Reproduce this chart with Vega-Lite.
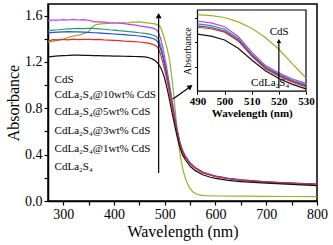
{
  "$schema": "https://vega.github.io/schema/vega-lite/v6.json",
  "width": 269,
  "height": 197,
  "autosize": "none",
  "padding": {"left": 48, "top": 4, "right": 16, "bottom": 44},
  "background": "white",
  "config": {
    "view": {"stroke": "#000", "strokeWidth": 1.5},
    "font": "Liberation Serif",
    "style": {"guide-label": {"font": "Liberation Serif"}, "guide-title": {"font": "Liberation Serif"}},
    "axis": {"labelFont": "Liberation Serif", "titleFont": "Liberation Serif", "labelColor": "#000", "titleColor": "#000", "domainColor": "#000", "tickColor": "#000", "grid": false, "titleFontWeight": "normal", "labelFlush": false, "labelOverlap": false}
  },
  "datasets": {
    "main": [
      {"s":"CdS","w":270,"a":1.372},{"s":"CdS","w":280,"a":1.378},{"s":"CdS","w":290,"a":1.388},{"s":"CdS","w":300,"a":1.396},{"s":"CdS","w":313,"a":1.416},{"s":"CdS","w":322,"a":1.425},{"s":"CdS","w":330,"a":1.432},{"s":"CdS","w":338,"a":1.44},{"s":"CdS","w":346,"a":1.452},{"s":"CdS","w":350,"a":1.462},{"s":"CdS","w":353,"a":1.478},{"s":"CdS","w":356,"a":1.498},{"s":"CdS","w":360,"a":1.512},{"s":"CdS","w":365,"a":1.522},{"s":"CdS","w":370,"a":1.526},{"s":"CdS","w":380,"a":1.53},{"s":"CdS","w":390,"a":1.532},{"s":"CdS","w":400,"a":1.534},{"s":"CdS","w":410,"a":1.536},{"s":"CdS","w":420,"a":1.538},{"s":"CdS","w":430,"a":1.54},{"s":"CdS","w":440,"a":1.543},{"s":"CdS","w":450,"a":1.545},{"s":"CdS","w":460,"a":1.54},{"s":"CdS","w":470,"a":1.535},{"s":"CdS","w":478,"a":1.53},{"s":"CdS","w":484,"a":1.524},{"s":"CdS","w":488,"a":1.515},{"s":"CdS","w":492,"a":1.5},{"s":"CdS","w":496,"a":1.45},{"s":"CdS","w":500,"a":1.39},{"s":"CdS","w":505,"a":1.31},{"s":"CdS","w":510,"a":1.21},{"s":"CdS","w":516,"a":0.99},{"s":"CdS","w":521,"a":0.77},{"s":"CdS","w":526,"a":0.53},{"s":"CdS","w":532,"a":0.355},{"s":"CdS","w":537,"a":0.25},{"s":"CdS","w":542,"a":0.18},{"s":"CdS","w":548,"a":0.12},{"s":"CdS","w":555,"a":0.08},{"s":"CdS","w":562,"a":0.06},{"s":"CdS","w":570,"a":0.05},{"s":"CdS","w":580,"a":0.046},{"s":"CdS","w":600,"a":0.043},{"s":"CdS","w":650,"a":0.042},{"s":"CdS","w":700,"a":0.04},{"s":"CdS","w":750,"a":0.039},{"s":"CdS","w":800,"a":0.038},

      {"s":"10wt","w":270,"a":1.558},{"s":"10wt","w":280,"a":1.562},{"s":"10wt","w":290,"a":1.56},{"s":"10wt","w":300,"a":1.565},{"s":"10wt","w":310,"a":1.562},{"s":"10wt","w":320,"a":1.568},{"s":"10wt","w":330,"a":1.562},{"s":"10wt","w":340,"a":1.565},{"s":"10wt","w":350,"a":1.56},{"s":"10wt","w":355,"a":1.555},{"s":"10wt","w":360,"a":1.545},{"s":"10wt","w":370,"a":1.546},{"s":"10wt","w":380,"a":1.543},{"s":"10wt","w":390,"a":1.54},{"s":"10wt","w":400,"a":1.538},{"s":"10wt","w":410,"a":1.535},{"s":"10wt","w":420,"a":1.53},{"s":"10wt","w":430,"a":1.525},{"s":"10wt","w":440,"a":1.52},{"s":"10wt","w":450,"a":1.512},{"s":"10wt","w":460,"a":1.505},{"s":"10wt","w":470,"a":1.498},{"s":"10wt","w":478,"a":1.49},{"s":"10wt","w":484,"a":1.475},{"s":"10wt","w":488,"a":1.45},{"s":"10wt","w":492,"a":1.4},{"s":"10wt","w":496,"a":1.33},{"s":"10wt","w":500,"a":1.24},{"s":"10wt","w":505,"a":1.12},{"s":"10wt","w":510,"a":0.99},{"s":"10wt","w":515,"a":0.86},{"s":"10wt","w":520,"a":0.73},{"s":"10wt","w":525,"a":0.61},{"s":"10wt","w":530,"a":0.51},{"s":"10wt","w":535,"a":0.44},{"s":"10wt","w":540,"a":0.395},{"s":"10wt","w":550,"a":0.33},{"s":"10wt","w":560,"a":0.29},{"s":"10wt","w":575,"a":0.25},{"s":"10wt","w":590,"a":0.228},{"s":"10wt","w":600,"a":0.216},{"s":"10wt","w":625,"a":0.196},{"s":"10wt","w":650,"a":0.183},{"s":"10wt","w":675,"a":0.173},{"s":"10wt","w":700,"a":0.166},{"s":"10wt","w":750,"a":0.155},{"s":"10wt","w":800,"a":0.146},

      {"s":"5wt","w":270,"a":1.47},{"s":"5wt","w":280,"a":1.475},{"s":"5wt","w":290,"a":1.478},{"s":"5wt","w":300,"a":1.482},{"s":"5wt","w":310,"a":1.485},{"s":"5wt","w":320,"a":1.488},{"s":"5wt","w":330,"a":1.49},{"s":"5wt","w":340,"a":1.488},{"s":"5wt","w":350,"a":1.49},{"s":"5wt","w":360,"a":1.49},{"s":"5wt","w":370,"a":1.486},{"s":"5wt","w":380,"a":1.482},{"s":"5wt","w":390,"a":1.478},{"s":"5wt","w":400,"a":1.475},{"s":"5wt","w":410,"a":1.47},{"s":"5wt","w":420,"a":1.466},{"s":"5wt","w":430,"a":1.462},{"s":"5wt","w":440,"a":1.458},{"s":"5wt","w":450,"a":1.452},{"s":"5wt","w":460,"a":1.447},{"s":"5wt","w":470,"a":1.44},{"s":"5wt","w":478,"a":1.43},{"s":"5wt","w":484,"a":1.415},{"s":"5wt","w":488,"a":1.39},{"s":"5wt","w":492,"a":1.34},{"s":"5wt","w":496,"a":1.27},{"s":"5wt","w":500,"a":1.19},{"s":"5wt","w":505,"a":1.08},{"s":"5wt","w":510,"a":0.96},{"s":"5wt","w":515,"a":0.835},{"s":"5wt","w":520,"a":0.71},{"s":"5wt","w":525,"a":0.595},{"s":"5wt","w":530,"a":0.5},{"s":"5wt","w":535,"a":0.43},{"s":"5wt","w":540,"a":0.385},{"s":"5wt","w":550,"a":0.325},{"s":"5wt","w":560,"a":0.285},{"s":"5wt","w":575,"a":0.245},{"s":"5wt","w":590,"a":0.224},{"s":"5wt","w":600,"a":0.212},{"s":"5wt","w":625,"a":0.193},{"s":"5wt","w":650,"a":0.18},{"s":"5wt","w":675,"a":0.171},{"s":"5wt","w":700,"a":0.164},{"s":"5wt","w":750,"a":0.153},{"s":"5wt","w":800,"a":0.144},

      {"s":"3wt","w":270,"a":1.45},{"s":"3wt","w":280,"a":1.455},{"s":"3wt","w":290,"a":1.458},{"s":"3wt","w":300,"a":1.46},{"s":"3wt","w":310,"a":1.462},{"s":"3wt","w":320,"a":1.46},{"s":"3wt","w":330,"a":1.46},{"s":"3wt","w":340,"a":1.458},{"s":"3wt","w":350,"a":1.455},{"s":"3wt","w":360,"a":1.452},{"s":"3wt","w":370,"a":1.45},{"s":"3wt","w":380,"a":1.447},{"s":"3wt","w":390,"a":1.444},{"s":"3wt","w":400,"a":1.441},{"s":"3wt","w":410,"a":1.438},{"s":"3wt","w":420,"a":1.435},{"s":"3wt","w":430,"a":1.431},{"s":"3wt","w":440,"a":1.428},{"s":"3wt","w":450,"a":1.424},{"s":"3wt","w":460,"a":1.418},{"s":"3wt","w":470,"a":1.41},{"s":"3wt","w":478,"a":1.4},{"s":"3wt","w":484,"a":1.385},{"s":"3wt","w":488,"a":1.36},{"s":"3wt","w":492,"a":1.31},{"s":"3wt","w":496,"a":1.245},{"s":"3wt","w":500,"a":1.17},{"s":"3wt","w":505,"a":1.06},{"s":"3wt","w":510,"a":0.945},{"s":"3wt","w":515,"a":0.82},{"s":"3wt","w":520,"a":0.7},{"s":"3wt","w":525,"a":0.59},{"s":"3wt","w":530,"a":0.495},{"s":"3wt","w":535,"a":0.43},{"s":"3wt","w":540,"a":0.385},{"s":"3wt","w":550,"a":0.325},{"s":"3wt","w":560,"a":0.287},{"s":"3wt","w":575,"a":0.248},{"s":"3wt","w":590,"a":0.226},{"s":"3wt","w":600,"a":0.214},{"s":"3wt","w":625,"a":0.195},{"s":"3wt","w":650,"a":0.182},{"s":"3wt","w":675,"a":0.173},{"s":"3wt","w":700,"a":0.166},{"s":"3wt","w":750,"a":0.155},{"s":"3wt","w":800,"a":0.146},

      {"s":"1wt","w":270,"a":1.38},{"s":"1wt","w":280,"a":1.392},{"s":"1wt","w":290,"a":1.39},{"s":"1wt","w":300,"a":1.395},{"s":"1wt","w":310,"a":1.39},{"s":"1wt","w":320,"a":1.396},{"s":"1wt","w":330,"a":1.392},{"s":"1wt","w":340,"a":1.395},{"s":"1wt","w":350,"a":1.394},{"s":"1wt","w":360,"a":1.392},{"s":"1wt","w":370,"a":1.395},{"s":"1wt","w":380,"a":1.39},{"s":"1wt","w":390,"a":1.388},{"s":"1wt","w":400,"a":1.386},{"s":"1wt","w":410,"a":1.384},{"s":"1wt","w":420,"a":1.38},{"s":"1wt","w":430,"a":1.378},{"s":"1wt","w":440,"a":1.375},{"s":"1wt","w":450,"a":1.372},{"s":"1wt","w":460,"a":1.367},{"s":"1wt","w":470,"a":1.36},{"s":"1wt","w":478,"a":1.35},{"s":"1wt","w":484,"a":1.335},{"s":"1wt","w":488,"a":1.31},{"s":"1wt","w":492,"a":1.265},{"s":"1wt","w":496,"a":1.2},{"s":"1wt","w":500,"a":1.13},{"s":"1wt","w":505,"a":1.03},{"s":"1wt","w":510,"a":0.92},{"s":"1wt","w":515,"a":0.8},{"s":"1wt","w":520,"a":0.685},{"s":"1wt","w":525,"a":0.58},{"s":"1wt","w":530,"a":0.49},{"s":"1wt","w":535,"a":0.425},{"s":"1wt","w":540,"a":0.38},{"s":"1wt","w":550,"a":0.32},{"s":"1wt","w":560,"a":0.282},{"s":"1wt","w":575,"a":0.243},{"s":"1wt","w":590,"a":0.222},{"s":"1wt","w":600,"a":0.21},{"s":"1wt","w":625,"a":0.192},{"s":"1wt","w":650,"a":0.179},{"s":"1wt","w":675,"a":0.17},{"s":"1wt","w":700,"a":0.163},{"s":"1wt","w":750,"a":0.152},{"s":"1wt","w":800,"a":0.142},

      {"s":"CdLa2S4","w":270,"a":1.243},{"s":"CdLa2S4","w":280,"a":1.248},{"s":"CdLa2S4","w":290,"a":1.252},{"s":"CdLa2S4","w":300,"a":1.255},{"s":"CdLa2S4","w":310,"a":1.256},{"s":"CdLa2S4","w":320,"a":1.258},{"s":"CdLa2S4","w":330,"a":1.258},{"s":"CdLa2S4","w":340,"a":1.256},{"s":"CdLa2S4","w":350,"a":1.257},{"s":"CdLa2S4","w":360,"a":1.255},{"s":"CdLa2S4","w":370,"a":1.254},{"s":"CdLa2S4","w":380,"a":1.252},{"s":"CdLa2S4","w":390,"a":1.252},{"s":"CdLa2S4","w":400,"a":1.25},{"s":"CdLa2S4","w":410,"a":1.25},{"s":"CdLa2S4","w":420,"a":1.249},{"s":"CdLa2S4","w":430,"a":1.248},{"s":"CdLa2S4","w":440,"a":1.247},{"s":"CdLa2S4","w":450,"a":1.246},{"s":"CdLa2S4","w":460,"a":1.244},{"s":"CdLa2S4","w":466,"a":1.24},{"s":"CdLa2S4","w":472,"a":1.232},{"s":"CdLa2S4","w":478,"a":1.22},{"s":"CdLa2S4","w":484,"a":1.2},{"s":"CdLa2S4","w":488,"a":1.18},{"s":"CdLa2S4","w":492,"a":1.15},{"s":"CdLa2S4","w":496,"a":1.11},{"s":"CdLa2S4","w":500,"a":1.055},{"s":"CdLa2S4","w":505,"a":0.965},{"s":"CdLa2S4","w":510,"a":0.86},{"s":"CdLa2S4","w":515,"a":0.75},{"s":"CdLa2S4","w":520,"a":0.645},{"s":"CdLa2S4","w":525,"a":0.545},{"s":"CdLa2S4","w":530,"a":0.46},{"s":"CdLa2S4","w":535,"a":0.4},{"s":"CdLa2S4","w":540,"a":0.36},{"s":"CdLa2S4","w":550,"a":0.3},{"s":"CdLa2S4","w":560,"a":0.262},{"s":"CdLa2S4","w":575,"a":0.226},{"s":"CdLa2S4","w":590,"a":0.205},{"s":"CdLa2S4","w":600,"a":0.195},{"s":"CdLa2S4","w":625,"a":0.178},{"s":"CdLa2S4","w":650,"a":0.168},{"s":"CdLa2S4","w":675,"a":0.16},{"s":"CdLa2S4","w":700,"a":0.154},{"s":"CdLa2S4","w":750,"a":0.143},{"s":"CdLa2S4","w":800,"a":0.133}
    ],
    "inset": [
      {"s":"CdS","w":490,"a":1.568},{"s":"CdS","w":495,"a":1.55},{"s":"CdS","w":500,"a":1.51},{"s":"CdS","w":505,"a":1.42},{"s":"CdS","w":510,"a":1.29},{"s":"CdS","w":515,"a":1.1},{"s":"CdS","w":520,"a":0.86},{"s":"CdS","w":525,"a":0.56},{"s":"CdS","w":530,"a":0.27},
      {"s":"10wt","w":490,"a":1.434},{"s":"10wt","w":495,"a":1.4},{"s":"10wt","w":500,"a":1.32},{"s":"10wt","w":505,"a":1.12},{"s":"10wt","w":510,"a":0.8},{"s":"10wt","w":515,"a":0.53},{"s":"10wt","w":520,"a":0.375},{"s":"10wt","w":525,"a":0.25},{"s":"10wt","w":530,"a":0.16},
      {"s":"5wt","w":490,"a":1.38},{"s":"5wt","w":495,"a":1.345},{"s":"5wt","w":500,"a":1.27},{"s":"5wt","w":505,"a":1.08},{"s":"5wt","w":510,"a":0.76},{"s":"5wt","w":515,"a":0.5},{"s":"5wt","w":520,"a":0.345},{"s":"5wt","w":525,"a":0.225},{"s":"5wt","w":530,"a":0.13},
      {"s":"3wt","w":490,"a":1.34},{"s":"3wt","w":495,"a":1.305},{"s":"3wt","w":500,"a":1.235},{"s":"3wt","w":505,"a":1.05},{"s":"3wt","w":510,"a":0.74},{"s":"3wt","w":515,"a":0.48},{"s":"3wt","w":520,"a":0.325},{"s":"3wt","w":525,"a":0.205},{"s":"3wt","w":530,"a":0.11},
      {"s":"1wt","w":490,"a":1.31},{"s":"1wt","w":495,"a":1.28},{"s":"1wt","w":500,"a":1.21},{"s":"1wt","w":505,"a":1.03},{"s":"1wt","w":510,"a":0.72},{"s":"1wt","w":515,"a":0.46},{"s":"1wt","w":520,"a":0.305},{"s":"1wt","w":525,"a":0.185},{"s":"1wt","w":530,"a":0.085},
      {"s":"CdLa2S4","w":490,"a":1.168},{"s":"CdLa2S4","w":495,"a":1.13},{"s":"CdLa2S4","w":500,"a":1.05},{"s":"CdLa2S4","w":505,"a":0.88},{"s":"CdLa2S4","w":510,"a":0.64},{"s":"CdLa2S4","w":515,"a":0.42},{"s":"CdLa2S4","w":520,"a":0.26},{"s":"CdLa2S4","w":525,"a":0.14},{"s":"CdLa2S4","w":530,"a":0.048}
    ],
    "legend": [
      {"t":"CdS","w":283,"a":1.04},
      {"t":"CdLa₂S₄@10wt% CdS","w":283,"a":0.917},
      {"t":"CdLa₂S₄@5wt% CdS","w":283,"a":0.766},
      {"t":"CdLa₂S₄@3wt% CdS","w":283,"a":0.606},
      {"t":"CdLa₂S₄@1wt% CdS","w":283,"a":0.45},
      {"t":"CdLa₂S₄","w":283,"a":0.297}
    ]
  },
  "resolve": {"scale": {"x": "independent", "y": "independent"}, "axis": {"x": "independent", "y": "independent"}},
  "layer": [
    {
      "data": {"name": "main"},
      "mark": {"type": "line", "strokeWidth": 1.2},
      "encoding": {
        "x": {"field": "w", "type": "quantitative", "scale": {"domain": [270, 800], "nice": false, "zero": false},
          "axis": {"orient": "bottom", "title": "Wavelength (nm)", "values": [300,350,400,450,500,550,600,650,700,750,800], "labelExpr": "datum.value % 100 == 0 ? datum.label : ''", "tickSize": 4, "tickWidth": 1.2, "domainWidth": 1.5, "labelFont": "Liberation Serif, Times New Roman, serif", "titleFont": "Liberation Serif, Times New Roman, serif", "labelFontSize": 14, "titleFontSize": 16, "labelPadding": 2, "titlePadding": 2}},
        "y": {"field": "a", "type": "quantitative", "scale": {"domain": [0, 1.7], "nice": false, "zero": false},
          "axis": {"orient": "left", "title": "Absorbance", "values": [0,0.2,0.4,0.6,0.8,1.0,1.2,1.4,1.6], "labelExpr": "round(datum.value*10) % 4 == 0 ? format(datum.value, '.1f') : ''", "tickSize": 4, "tickWidth": 1.2, "domainWidth": 1.5, "labelFont": "Liberation Serif, Times New Roman, serif", "titleFont": "Liberation Serif, Times New Roman, serif", "labelFontSize": 14, "titleFontSize": 16, "labelPadding": 2, "titlePadding": 3}},
        "color": {"field": "s", "type": "nominal", "legend": null,
          "scale": {"domain": ["CdS","10wt","5wt","3wt","1wt","CdLa2S4"], "range": ["#93b526","#c13cf2","#23997a","#2a4fd6","#f02828","#111111"]}}
      }
    },
    {
      "data": {"name": "legend"},
      "mark": {"type": "text", "align": "left", "baseline": "middle", "fontSize": 11, "font": "Liberation Serif", "color": "#000"},
      "encoding": {
        "x": {"field": "w", "type": "quantitative", "scale": {"domain": [270, 800], "nice": false, "zero": false}, "axis": null},
        "y": {"field": "a", "type": "quantitative", "scale": {"domain": [0, 1.7], "nice": false, "zero": false}, "axis": null},
        "text": {"field": "t"}
      }
    },
    {
      "data": {"values": [{"w": 488, "a": 0.242, "w2": 488, "a2": 1.59}, {"w": 516, "a": 0.88, "w2": 549, "a2": 0.982}]},
      "mark": {"type": "rule", "color": "#000", "strokeWidth": 1.2},
      "encoding": {
        "x": {"field": "w", "type": "quantitative", "scale": {"domain": [270, 800], "nice": false, "zero": false}, "axis": null},
        "y": {"field": "a", "type": "quantitative", "scale": {"domain": [0, 1.7], "nice": false, "zero": false}, "axis": null},
        "x2": {"field": "w2"},
        "y2": {"field": "a2"}
      }
    },
    {
      "data": {"values": [{"w": 488, "a": 1.6}]},
      "mark": {"type": "point", "shape": "triangle-up", "filled": true, "color": "#000", "size": 36, "opacity": 1},
      "encoding": {
        "x": {"field": "w", "type": "quantitative", "scale": {"domain": [270, 800], "nice": false, "zero": false}, "axis": null},
        "y": {"field": "a", "type": "quantitative", "scale": {"domain": [0, 1.7], "nice": false, "zero": false}, "axis": null}
      }
    },
    {
      "data": {"values": [{"w": 550.5, "a": 0.987}]},
      "mark": {"type": "point", "shape": "triangle-up", "filled": true, "color": "#000", "size": 36, "opacity": 1, "angle": 54},
      "encoding": {
        "x": {"field": "w", "type": "quantitative", "scale": {"domain": [270, 800], "nice": false, "zero": false}, "axis": null},
        "y": {"field": "a", "type": "quantitative", "scale": {"domain": [0, 1.7], "nice": false, "zero": false}, "axis": null}
      }
    },
    {
      "data": {"values": [{"w": 490, "w2": 530, "a": 0, "a2": 1.664}]},
      "mark": {"type": "rect", "filled": false, "stroke": "#000", "strokeWidth": 1.2},
      "encoding": {
        "x": {"field": "w", "type": "quantitative", "scale": {"domain": [434.88, 534.06], "nice": false, "zero": false},
          "axis": {"orient": "bottom", "offset": -109.8, "title": "Wavelength (nm)", "titleX": 203.75, "values": [490,500,510,520,530], "domain": false, "tickSize": 3, "tickWidth": 1, "labelFont": "Liberation Serif, Times New Roman, serif", "titleFont": "Liberation Serif, Times New Roman, serif", "labelFontSize": 11, "labelFontWeight": "bold", "titleFontSize": 11, "titleFontWeight": "bold", "labelPadding": 1, "titlePadding": 1}},
        "y": {"field": "a", "type": "quantitative", "scale": {"domain": [-2.25, 1.787], "nice": false, "zero": false},
          "axis": {"orient": "left", "offset": -149.5, "title": "Absorbance", "titleY": 46.6, "values": [0.5, 1.0, 1.5], "labels": false, "domain": false, "tickSize": 3, "tickWidth": 1, "titleFont": "Liberation Serif, Times New Roman, serif", "titleFontSize": 10, "titlePadding": 2}},
        "x2": {"field": "w2"},
        "y2": {"field": "a2"}
      }
    },
    {
      "data": {"name": "inset"},
      "mark": {"type": "line", "strokeWidth": 1.2},
      "encoding": {
        "x": {"field": "w", "type": "quantitative", "scale": {"domain": [434.88, 534.06], "nice": false, "zero": false}, "axis": null},
        "y": {"field": "a", "type": "quantitative", "scale": {"domain": [-2.25, 1.787], "nice": false, "zero": false}, "axis": null},
        "color": {"field": "s", "type": "nominal", "legend": null,
          "scale": {"domain": ["CdS","10wt","5wt","3wt","1wt","CdLa2S4"], "range": ["#93b526","#c13cf2","#23997a","#2a4fd6","#f02828","#111111"]}}
      }
    },
    {
      "data": {"values": [{"w": 520, "a": 0.06, "a2": 1.02}]},
      "mark": {"type": "rule", "color": "#000", "strokeWidth": 1.2},
      "encoding": {
        "x": {"field": "w", "type": "quantitative", "scale": {"domain": [434.88, 534.06], "nice": false, "zero": false}, "axis": null},
        "y": {"field": "a", "type": "quantitative", "scale": {"domain": [-2.25, 1.787], "nice": false, "zero": false}, "axis": null},
        "y2": {"field": "a2"}
      }
    },
    {
      "data": {"values": [{"w": 520, "a": 1.03}]},
      "mark": {"type": "point", "shape": "triangle-up", "filled": true, "color": "#000", "size": 20, "opacity": 1},
      "encoding": {
        "x": {"field": "w", "type": "quantitative", "scale": {"domain": [434.88, 534.06], "nice": false, "zero": false}, "axis": null},
        "y": {"field": "a", "type": "quantitative", "scale": {"domain": [-2.25, 1.787], "nice": false, "zero": false}, "axis": null}
      }
    },
    {
      "data": {"values": [{"t": "CdS", "w": 520.1, "a": 1.207}, {"t": "CdLa₂S₄", "w": 516.8, "a": 0.162}]},
      "mark": {"type": "text", "align": "center", "baseline": "middle", "fontSize": 11, "font": "Liberation Serif", "color": "#000"},
      "encoding": {
        "x": {"field": "w", "type": "quantitative", "scale": {"domain": [434.88, 534.06], "nice": false, "zero": false}, "axis": null},
        "y": {"field": "a", "type": "quantitative", "scale": {"domain": [-2.25, 1.787], "nice": false, "zero": false}, "axis": null},
        "text": {"field": "t"}
      }
    }
  ]
}
